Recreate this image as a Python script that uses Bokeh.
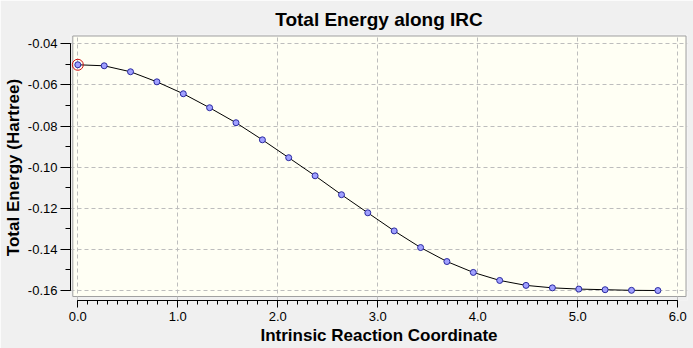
from bokeh.plotting import figure
from bokeh.models import Range1d, FixedTicker, PrintfTickFormatter
from bokeh.embed import file_html
from bokeh.resources import INLINE

# Data (IRC steps vs total energy)
irc = [0.000, 0.264, 0.527, 0.791, 1.055, 1.318, 1.582, 1.846, 2.109, 2.373,
       2.637, 2.900, 3.164, 3.428, 3.691, 3.955, 4.219, 4.482, 4.746, 5.010,
       5.273, 5.537, 5.801]
energy = [-0.0502, -0.0507, -0.0536, -0.0585, -0.0643, -0.0711, -0.0784, -0.0867,
          -0.0954, -0.1042, -0.1134, -0.1222, -0.1310, -0.1391, -0.1459, -0.1512,
          -0.1551, -0.1575, -0.1587, -0.1593, -0.1596, -0.1599, -0.1600]
current_x = [0.000]
current_y = [-0.0502]
x_ticks = [0.0, 1.0, 2.0, 3.0, 4.0, 5.0, 6.0]
y_ticks = [-0.04, -0.06, -0.08, -0.10, -0.12, -0.14, -0.16]

FONT = "Liberation Sans"

p = figure(width=693, height=348, output_backend="svg", toolbar_location=None,
           x_range=Range1d(-0.073, 6.097), y_range=Range1d(-0.16485, -0.03548),
           min_border_left=70, min_border_right=6, min_border_top=34,
           min_border_bottom=48, title="Total Energy along IRC")

p.background_fill_color = "#f0f0f0"
p.border_fill_color = "#f0f0f0"
p.outline_line_color = None

# cream plotting box
p.quad(left=[-0.050], right=[6.082], bottom=[-0.1629], top=[-0.03621],
       fill_color="#fffff4", line_color="#a0a0a0", line_width=1, level="image")

p.title.text_font = FONT
p.title.text_font_style = "bold"
p.title.text_font_size = "19px"
p.title.align = "center"
p.title.text_color = "black"

minor_x = [round(0.1 * i, 1) for i in range(61)]
minor_y = [round(-0.04 - 0.01 * i, 2) for i in range(13)]
p.xaxis.ticker = FixedTicker(ticks=x_ticks, minor_ticks=minor_x)
p.yaxis.ticker = FixedTicker(ticks=y_ticks, minor_ticks=minor_y)
p.xaxis.formatter = PrintfTickFormatter(format="%.1f")
p.yaxis.formatter = PrintfTickFormatter(format="%.2f")
p.xaxis.bounds = (0, 6)
p.yaxis.bounds = (-0.16, -0.04)

for ax in (p.xaxis, p.yaxis):
    ax.axis_line_color = "black"
    ax.major_tick_line_color = "black"
    ax.minor_tick_line_color = "black"
    ax.major_tick_in = 0
    ax.minor_tick_in = 0
    ax.major_label_text_font = FONT
    ax.major_label_text_font_size = "13px"
    ax.major_label_text_color = "black"
    ax.axis_label_text_font = FONT
    ax.axis_label_text_font_style = "bold"
    ax.axis_label_text_font_size = "17px"
    ax.axis_label_text_color = "black"
    ax.axis_label_standoff = 2

p.xaxis.major_tick_out = 7
p.xaxis.minor_tick_out = 4
p.xaxis.major_label_standoff = 4
p.yaxis.major_tick_out = 10
p.yaxis.minor_tick_out = 5
p.yaxis.major_label_standoff = 3
p.xaxis.axis_label = "Intrinsic Reaction Coordinate"
p.yaxis.axis_label = "Total Energy (Hartree)"

p.xgrid.grid_line_color = "#bdbdbd"
p.ygrid.grid_line_color = "#bdbdbd"
p.xgrid.grid_line_dash = "4 3"
p.ygrid.grid_line_dash = "4 3"
p.xgrid.bounds = (-0.1629, -0.03621)
p.ygrid.bounds = (-0.050, 6.082)

p.line(irc, energy, line_color="black", line_width=1)
p.scatter(irc, energy, size=6, fill_color="#a0a0ff", line_color="#2a2aa0", line_width=1)
p.scatter(current_x, current_y, size=11, fill_color=None, line_color="#d01010", line_width=1)

open("out.html", "w").write(file_html(p, INLINE))
